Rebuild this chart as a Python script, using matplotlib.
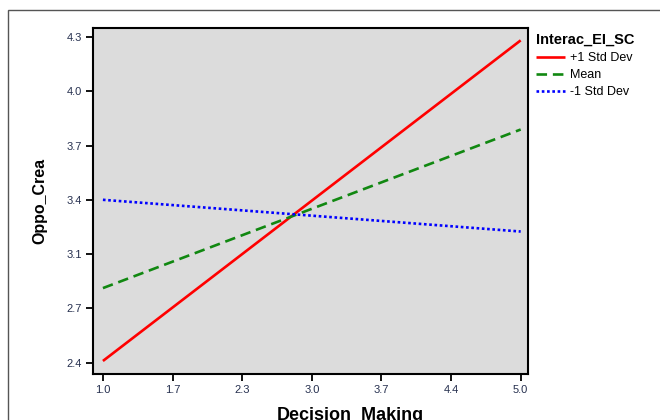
import matplotlib
matplotlib.use('Agg')
import numpy as np
import matplotlib.pyplot as plt
from matplotlib.patches import Rectangle

# Values
decision_making = [1.0, 5.0]
plus_1sd = [2.41, 4.28]
mean_line = [2.835, 3.76]
minus_1sd = [3.35, 3.165]

x_tick_labels = ['1.0', '1.7', '2.3', '3.0', '3.7', '4.4', '5.0']
y_tick_labels = ['2.4', '2.7', '3.1', '3.4', '3.7', '4.0', '4.3']

plt.rcParams['font.family'] = ['Liberation Sans', 'DejaVu Sans']

fig = plt.figure(figsize=(6.6, 4.2), dpi=100)
ax = fig.add_axes([93 / 660, 46 / 420, 435 / 660, 346 / 420])
ax.set_facecolor('#dcdcdc')

# outer frame of the output window
fig.patches.append(Rectangle((8 / 660, -0.1), 1.2, 1.1 - 10 / 420,
                             transform=fig.transFigure, fill=False,
                             edgecolor='#555555', linewidth=1.0))

ax.plot(decision_making, plus_1sd, color='#ff0000', linewidth=1.9,
        solid_capstyle='butt', label='+1 Std Dev')
ax.plot(decision_making, mean_line, color='#118811', linewidth=1.9,
        dashes=(4, 2.2), label='Mean')
ax.plot(decision_making, minus_1sd, color='#0000ff', linewidth=1.9,
        dashes=(1, 1), label='-1 Std Dev')

ax.set_xlim(0.905, 5.07)
ax.set_ylim(2.334, 4.352)
ax.set_xticks(np.linspace(1.0, 5.0, 7))
ax.set_xticklabels(x_tick_labels)
ax.set_yticks(np.linspace(2.4, 4.3, 7))
ax.set_yticklabels(y_tick_labels)
ax.tick_params(direction='out', length=5, width=1.3, labelsize=8,
               labelcolor='#26304f', pad=3)

for sp in ax.spines.values():
    sp.set_linewidth(1.5)
    sp.set_color('black')

ax.set_xlabel('Decision_Making', fontsize=13, fontweight='bold')
ax.xaxis.set_label_coords((350 - 93) / 435, -0.095)
ax.set_ylabel('Oppo_Crea', fontsize=11.5, fontweight='bold', labelpad=14)

leg = fig.legend(loc='upper left', bbox_to_anchor=(531 / 660, 1 - 28 / 420),
                 frameon=False, title='Interac_EI_SC', fontsize=9,
                 title_fontproperties={'weight': 'bold', 'size': 10.5},
                 alignment='left', handlelength=2.3, handletextpad=0.45,
                 labelspacing=0.4, borderaxespad=0)

fig.savefig('out.png', dpi=100)
